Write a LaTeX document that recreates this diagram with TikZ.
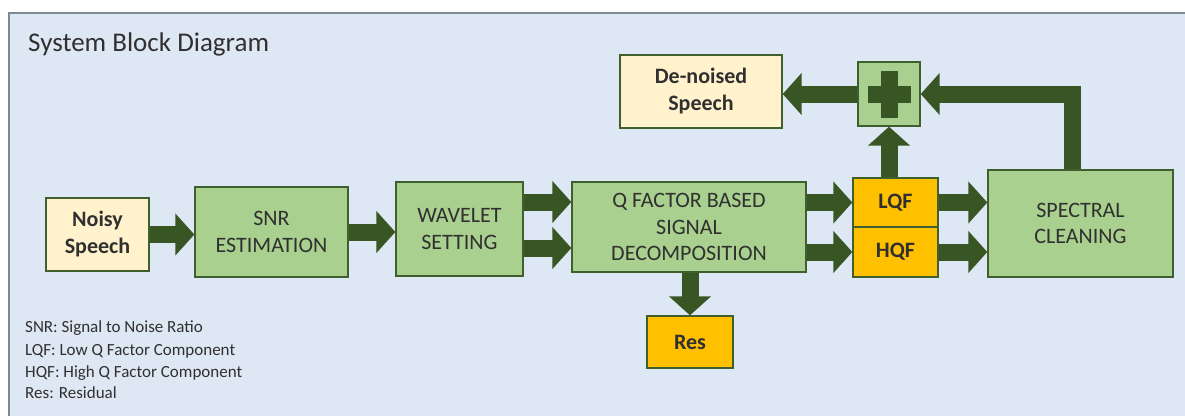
\documentclass[tikz,border=0pt]{standalone}
\usepackage{fontspec}
\setmainfont{Carlito}
\usetikzlibrary{arrows.meta,calc}
\definecolor{bgblue}{HTML}{DEE8F4}
\definecolor{framecol}{HTML}{7D8B99}
\definecolor{boxgreen}{HTML}{A9D08E}
\definecolor{boxedge}{HTML}{3F5F2E}
\definecolor{cream}{HTML}{FFF2CC}
\definecolor{amber}{HTML}{FFC000}
\definecolor{arrowgreen}{HTML}{375623}
\definecolor{txt}{HTML}{303030}
\begin{document}
\begin{tikzpicture}[x=1pt,y=-1pt,
  blk/.style={draw=boxedge, line width=1.3pt, align=center, inner sep=0pt, text=txt,
    font=\fontsize{22}{26.5}\selectfont},
  greenbox/.style={blk, fill=boxgreen},
  creambox/.style={blk, fill=cream, font=\fontsize{22}{27}\selectfont\bfseries},
  amberbox/.style={blk, fill=amber, font=\fontsize{22}{27}\selectfont\bfseries},
  barrow/.style={draw=arrowgreen, line width=17pt, -{Triangle[width=41pt,length=19pt]}},
  legend/.style={anchor=base west, inner sep=0pt, text=txt, font=\fontsize{17}{22}\selectfont}
]
\clip (0,0) rectangle (1185,415);
\fill[white] (0,0) rectangle (1185,415);
\draw[framecol, fill=bgblue, line width=1.5pt] (9,13) rectangle (1200,430);

\node[anchor=base west, inner sep=0pt, text=txt, font=\fontsize{27}{32}\selectfont] (title) at (28,51) {System Block Diagram};

\node[creambox, minimum width=103pt, minimum height=73pt] (noisy) at (97.5,234.5) {Noisy\\Speech};
\node[greenbox, minimum width=153pt, minimum height=90pt] (snr) at (271.5,232) {SNR\\ESTIMATION};
\node[greenbox, minimum width=127pt, minimum height=94pt] (wav) at (459.5,229) {WAVELET\\SETTING};
\node[greenbox, minimum width=234pt, minimum height=90pt] (q) at (689,227) {Q FACTOR BASED\\SIGNAL\\DECOMPOSITION};
\node[amberbox, minimum width=85pt, minimum height=49pt] (lqf) at (895.5,202.5) {LQF};
\node[amberbox, minimum width=85pt, minimum height=50pt] (hqf) at (895.5,252) {HQF};
\node[greenbox, minimum width=185pt, minimum height=107pt] (spec) at (1080.5,223.5) {SPECTRAL\\CLEANING};
\node[amberbox, minimum width=86pt, minimum height=52pt] (res) at (690,342) {Res};
\node[creambox, minimum width=162pt, minimum height=73pt] (den) at (701,91.5) {De-noised\\Speech};
\node[greenbox, minimum width=62pt, minimum height=64pt] (plus) at (889,94) {};
\fill[arrowgreen] ($(plus.center)+(-21.5,-8.5)$) rectangle +(43,17);
\fill[arrowgreen] ($(plus.center)+(-8.5,-23.5)$) rectangle +(17,47);

\draw[barrow] (noisy.east) -- (noisy.east -| snr.west);
\draw[barrow] (snr.east) -- (snr.east -| wav.west);
\draw[barrow] ([yshift=27pt]wav.east) -- ([yshift=27pt]wav.east -| q.west);
\draw[barrow] ([yshift=-19pt]wav.east) -- ([yshift=-19pt]wav.east -| q.west);
\draw[barrow] (q.east |- lqf.center) -- (lqf.west);
\draw[barrow] (q.east |- hqf.center) -- (hqf.west);
\draw[barrow] (lqf.east) -- (lqf.east -| spec.west);
\draw[barrow] (hqf.east) -- (hqf.east -| spec.west);
\draw[barrow] (q.south -| res.north) -- (res.north);
\draw[barrow] (plus.south |- lqf.north) -- (plus.south);
\draw[barrow] (plus.west) -- (plus.west -| den.east);
\draw[barrow] ([xshift=-8.5pt]spec.north) |- (plus.east);

\node[legend] (legA) at (25,332) {SNR: Signal to Noise Ratio};
\node[legend] (legB) at (25,355) {LQF: Low Q Factor Component};
\node[legend] (legC) at (25,377) {HQF: High Q Factor Component};
\node[legend] (legD) at (25,398) {Res: Residual};
\end{tikzpicture}
\end{document}
